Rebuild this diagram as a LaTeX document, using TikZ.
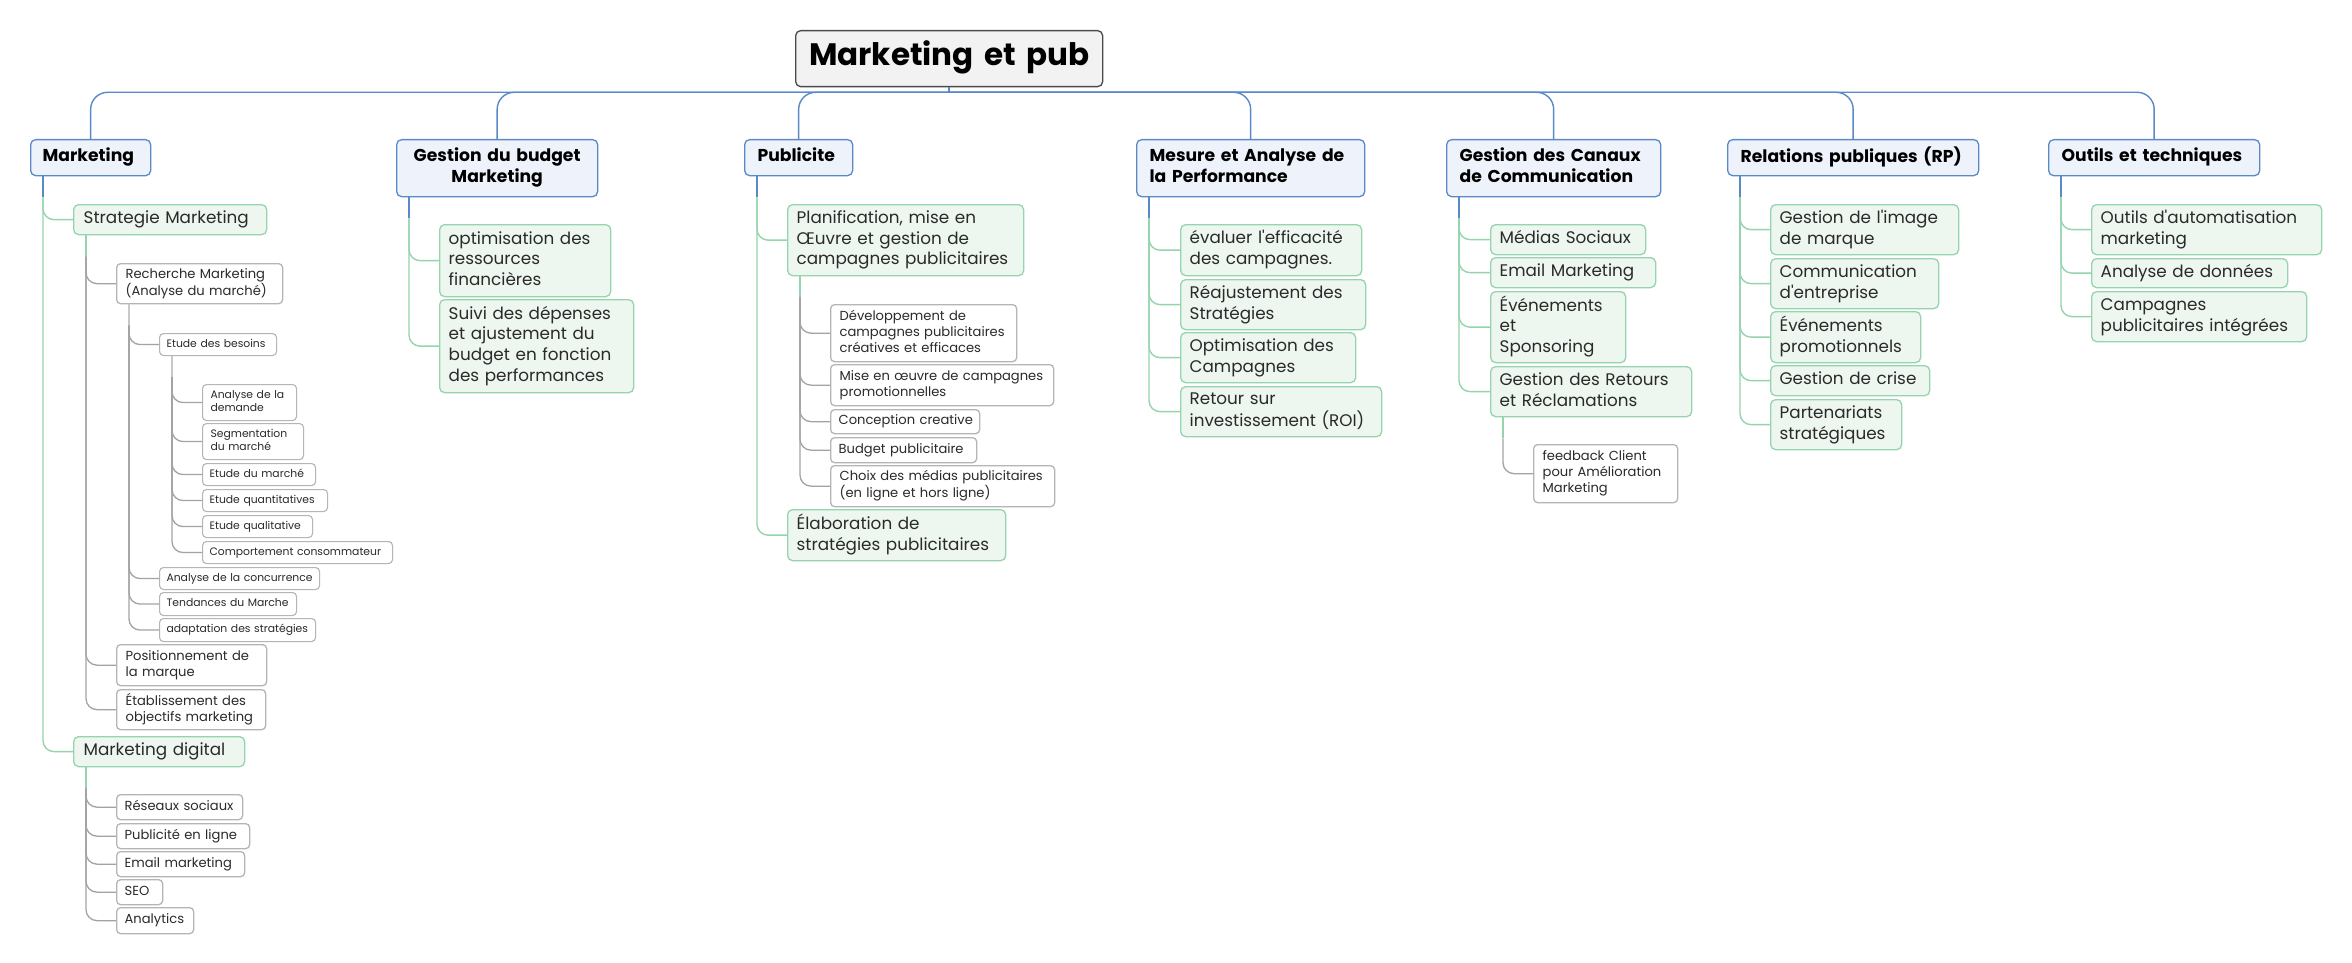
\documentclass[tikz,border=0pt]{standalone}
\usepackage{fontspec}
\setmainfont{Poppins}[Ligatures=TeXOff]
\definecolor{bluel}{HTML}{5A89C8}
\definecolor{bluefill}{HTML}{EEF3FB}
\definecolor{greenl}{HTML}{95D4AD}
\definecolor{greenfill}{HTML}{EEF6F0}
\definecolor{grayl}{HTML}{B5B5B5}
\definecolor{grayline}{HTML}{A3A3A3}
\definecolor{graystub}{HTML}{C8C8C8}
\definecolor{rootfill}{HTML}{F2F2F2}
\definecolor{rootdraw}{HTML}{4A4A4A}
\definecolor{txt}{HTML}{2A2A2A}
\tikzset{
  base/.style={anchor=north west, inner ysep=0pt, rounded corners=5pt, line width=1.3pt, align=left, text=txt},
  rootbox/.style={base, draw=rootdraw, fill=rootfill, align=center, text=black, font=\fontsize{31}{34}\selectfont\bfseries},
  lone/.style={base, draw=bluel, fill=bluefill, text=black, font=\fontsize{17.2}{21}\selectfont\bfseries},
  ltwo/.style={base, draw=greenl, fill=greenfill, font=\fontsize{16.8}{20.6}\selectfont},
  lthree/.style={base, draw=grayl, fill=white, rounded corners=4pt, font=\fontsize{13.1}{16}\selectfont},
  lfour/.style={base, draw=grayl, fill=white, rounded corners=4pt, line width=1.1pt, font=\fontsize{10.8}{13.3}\selectfont},
  bline/.style={draw=bluel, line width=1.4pt},
  gline/.style={draw=greenl, line width=1.4pt},
  yline/.style={draw=grayline, line width=1.3pt},
  ystub/.style={draw=graystub, line width=1.3pt},
}
% style, pad, name, x1, y1, x2, y2, text
\newcommand\nd[8]{%
  \pgfmathsetmacro\tw{#6-#4-2*#2}%
  \pgfmathsetmacro\hh{#7-#5}%
  \node[#1, inner xsep=#2pt, text width=\tw pt, minimum height=\hh pt] (#3) at (#4,#5)
    {\begin{tabular}{@{}l@{}}#8\end{tabular}};}
% parent, stub style
\newcommand\stub[2]{\draw[#2] ([xshift=13pt]#1.south west) -- ++(0,21);}
% parent, child, line style
\newcommand\lnk[3]{\draw[#3, rounded corners=11pt] ([shift={(13,21)}]#1.south west) |- (#2.west);}
\begin{document}
\begin{tikzpicture}[x=1pt,y=-1pt]
\fill[white] (0,0) rectangle (2352,963);
\useasboundingbox (0,0) rectangle (2352,963);

% root
\nd{rootbox}{0}{root}{795}{30}{1102}{86}{Marketing et pub}

% level 1
\nd{lone}{12}{m}{30}{139}{150}{175}{Marketing}
\nd{lone,align=center}{12}{b}{396}{139}{597}{196}{\begin{tabular}{@{}c@{}}Gestion du budget\\Marketing\end{tabular}}
\nd{lone}{13}{p}{744}{139}{852}{175}{Publicite}
\nd{lone}{13}{ma}{1136}{139}{1364}{196}{Mesure et Analyse de\\la Performance}
\nd{lone}{13}{gc}{1446}{139}{1660}{196}{Gestion des Canaux\\de Communication}
\nd{lone}{13}{rp}{1727}{139}{1978}{175}{Relations publiques (RP)}
\nd{lone}{13}{ot}{2048}{139}{2259}{175}{Outils et techniques}

% level 2
\nd{ltwo}{10}{m1}{73}{204}{266}{234}{Strategie Marketing}
\nd{ltwo}{10}{m2}{73}{736}{244}{766}{Marketing digital}
\nd{ltwo}{9}{b1}{439}{224}{610}{296}{optimisation des\\ressources\\financières}
\nd{ltwo}{9}{b2}{439}{299}{633}{392}{Suivi des dépenses\\et ajustement du\\budget en fonction\\des performances}
\nd{ltwo}{9}{p1}{787}{204}{1023}{275}{Planification, mise en\\Œuvre et gestion de\\campagnes publicitaires}
\nd{ltwo}{9}{p2}{787}{509}{1005}{560}{Élaboration de\\stratégies publicitaires}
\nd{ltwo}{9}{ma1}{1180}{224}{1361}{275}{évaluer l'efficacité\\des campagnes.}
\nd{ltwo}{9}{ma2}{1180}{279}{1365}{329}{Réajustement des\\Stratégies}
\nd{ltwo}{9}{ma3}{1180}{332}{1355}{382}{Optimisation des\\Campagnes}
\nd{ltwo}{9}{ma4}{1180}{386}{1381}{436}{Retour sur\\investissement (ROI)}
\nd{ltwo}{9}{gc1}{1490}{224}{1645}{254}{Médias Sociaux}
\nd{ltwo}{9}{gc2}{1490}{257}{1655}{287}{Email Marketing}
\nd{ltwo}{9}{gc3}{1490}{291}{1625}{362}{Événements\\et\\Sponsoring}
\nd{ltwo}{9}{gc4}{1490}{366}{1691}{416}{Gestion des Retours\\et Réclamations}
\nd{ltwo}{9}{rp1}{1770}{204}{1958}{254}{Gestion de l'image\\de marque}
\nd{ltwo}{9}{rp2}{1770}{258}{1938}{308}{Communication\\d'entreprise}
\nd{ltwo}{9}{rp3}{1770}{311}{1920}{362}{Événements\\promotionnels}
\nd{ltwo}{9}{rp4}{1770}{365}{1929}{395}{Gestion de crise}
\nd{ltwo}{9}{rp5}{1770}{399}{1901}{449}{Partenariats\\stratégiques}
\nd{ltwo}{9}{ot1}{2091}{204}{2321}{254}{Outils d'automatisation\\marketing}
\nd{ltwo}{9}{ot2}{2091}{258}{2287}{287}{Analyse de données}
\nd{ltwo}{9}{ot3}{2091}{291}{2306}{341}{Campagnes\\publicitaires intégrées}

% level 3
\nd{lthree}{9}{m11}{116}{263}{282}{303}{Recherche Marketing\\(Analyse du marché)}
\nd{lthree}{9}{m12}{116}{644}{266}{685}{Positionnement de\\la marque}
\nd{lthree}{9}{m13}{116}{689}{265}{729}{Établissement des\\objectifs marketing}
\nd{lthree}{8}{m21}{116}{794}{242}{819}{Réseaux sociaux}
\nd{lthree}{8}{m22}{116}{823}{249}{848}{Publicité en ligne}
\nd{lthree}{8}{m23}{116}{851}{244}{876}{Email marketing}
\nd{lthree}{8}{m24}{116}{879}{162}{904}{SEO}
\nd{lthree}{8}{m25}{116}{907}{193}{933}{Analytics}
\nd{lthree}{9}{p11}{830}{304}{1016}{361}{Développement de\\campagnes publicitaires\\créatives et efficaces}
\nd{lthree}{9}{p12}{830}{364}{1053}{405}{Mise en œuvre de campagnes\\promotionnelles}
\nd{lthree}{8}{p13}{830}{409}{979}{433}{Conception creative}
\nd{lthree}{8}{p14}{830}{437}{976}{462}{Budget publicitaire}
\nd{lthree}{9}{p15}{830}{465}{1054}{506}{Choix des médias publicitaires\\(en ligne et hors ligne)}
\nd{lthree}{9}{gc41}{1533}{444}{1677}{502}{feedback Client\\pour Amélioration\\Marketing}

% level 4
\nd{lfour}{7}{m111}{159}{333}{276}{355}{Etude des besoins}
\nd{lfour}{7}{m112}{159}{567}{319}{589}{Analyse de la concurrence}
\nd{lfour}{7}{m113}{159}{592}{296}{615}{Tendances du Marche}
\nd{lfour}{7}{m114}{159}{618}{315}{641}{adaptation des stratégies}

% level 5
\nd{lfour}{8}{e1}{202}{384}{296}{420}{Analyse de la\\demande}
\nd{lfour}{8}{e2}{202}{423}{303}{459}{Segmentation\\du marché}
\nd{lfour}{7}{e3}{202}{463}{315}{485}{Etude du marché}
\nd{lfour}{7}{e4}{202}{489}{327}{511}{Etude quantitatives}
\nd{lfour}{7}{e5}{202}{515}{312}{537}{Etude qualitative}
\nd{lfour}{7}{e6}{202}{541}{392}{563}{Comportement consommateur}

% root connectors
\draw[bline] (root.south) -- ++(0,5) coordinate (bus);
\foreach \c in {m,b,p,ma,gc,rp,ot} {
  \draw[bline, rounded corners=17pt] (bus) -| (\c.north);
}

% level 1 -> level 2
\foreach \c in {m1,m2} {\lnk{m}{\c}{gline}}
\foreach \c in {b1,b2} {\lnk{b}{\c}{gline}}
\foreach \c in {p1,p2} {\lnk{p}{\c}{gline}}
\foreach \c in {ma1,ma2,ma3,ma4} {\lnk{ma}{\c}{gline}}
\foreach \c in {gc1,gc2,gc3,gc4} {\lnk{gc}{\c}{gline}}
\foreach \c in {rp1,rp2,rp3,rp4,rp5} {\lnk{rp}{\c}{gline}}
\foreach \c in {ot1,ot2,ot3} {\lnk{ot}{\c}{gline}}
\foreach \c in {m,b,p,ma,gc,rp,ot} {\stub{\c}{bline}}

% level 2 -> level 3
\foreach \c in {m11,m12,m13} {\lnk{m1}{\c}{yline}}
\foreach \c in {m21,m22,m23,m24,m25} {\lnk{m2}{\c}{yline}}
\foreach \c in {p11,p12,p13,p14,p15} {\lnk{p1}{\c}{yline}}
\lnk{gc4}{gc41}{yline}
\foreach \c in {m1,m2,p1,gc4} {\stub{\c}{gline}}

% level 3 -> level 4
\foreach \c in {m111,m112,m113,m114} {\lnk{m11}{\c}{yline}}
\stub{m11}{ystub}
% level 4 -> level 5
\foreach \c in {e1,e2,e3,e4,e5,e6} {\lnk{m111}{\c}{yline}}
\stub{m111}{ystub}
\end{tikzpicture}
\end{document}
